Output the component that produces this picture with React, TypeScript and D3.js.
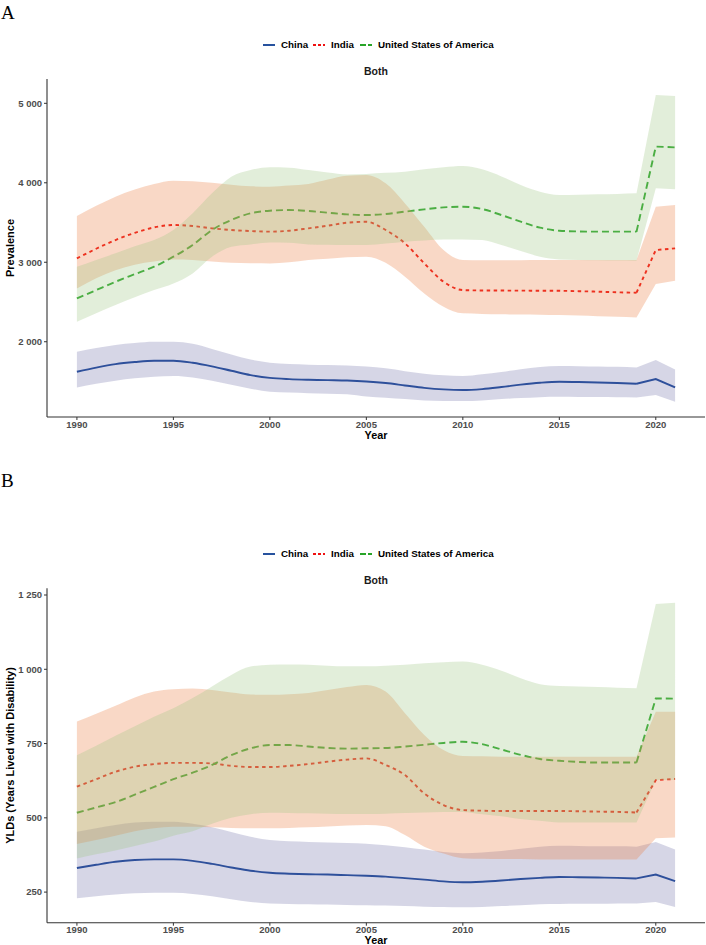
import React from "react";
import * as d3 from "d3";

// years on the x axis
const years = [
  1990, 1991, 1992, 1993, 1994, 1995, 1996, 1997, 1998, 1999, 2000, 2001, 2002, 2003, 2004, 2005,
  2006, 2007, 2008, 2009, 2010, 2011, 2012, 2013, 2014, 2015, 2016, 2017, 2018, 2019, 2020, 2021,
];
const countries = ["China", "India", "United States of America"];
const xTicks = [1990, 1995, 2000, 2005, 2010, 2015, 2020];
// smoothed trend runs up to this year, the last points are joined straight
const smoothUntil = 2019;

// Prevalence (rate) with uncertainty interval
const prevChina = [1622, 1675, 1719, 1745, 1761, 1761, 1735, 1690, 1635, 1580, 1545, 1530, 1522, 1517, 1512, 1500, 1480, 1450, 1420, 1400, 1392, 1404, 1430, 1460, 1484, 1497, 1494, 1488, 1480, 1471, 1530, 1425];
const prevChinaHi = [1874, 1920, 1960, 1985, 2000, 2000, 1975, 1910, 1840, 1775, 1736, 1720, 1712, 1706, 1700, 1688, 1665, 1630, 1598, 1578, 1568, 1590, 1620, 1655, 1682, 1694, 1692, 1688, 1684, 1677, 1769, 1652];
const prevChinaLo = [1425, 1470, 1510, 1540, 1560, 1568, 1550, 1510, 1460, 1410, 1371, 1360, 1352, 1345, 1338, 1310, 1295, 1278, 1262, 1255, 1253, 1262, 1278, 1292, 1303, 1308, 1306, 1304, 1301, 1299, 1329, 1245];
const prevIndia = [3049, 3170, 3280, 3370, 3439, 3469, 3456, 3427, 3406, 3393, 3385, 3397, 3427, 3460, 3498, 3510, 3406, 3238, 2986, 2755, 2650, 2645, 2644, 2643, 2642, 2641, 2636, 2630, 2622, 2617, 3154, 3175];
const prevIndiaHi = [3582, 3710, 3825, 3915, 3985, 4027, 4020, 4000, 3975, 3955, 3951, 3965, 3985, 4040, 4090, 4098, 3993, 3741, 3448, 3154, 3028, 3025, 3025, 3026, 3027, 3028, 3028, 3028, 3028, 3028, 3699, 3720];
const prevIndiaLo = [2671, 2800, 2900, 2970, 3010, 3036, 3030, 3010, 2995, 2988, 2986, 3000, 3028, 3045, 3062, 3070, 2994, 2818, 2608, 2441, 2357, 2350, 2345, 2342, 2340, 2336, 2330, 2322, 2314, 2306, 2726, 2768];
const prevUsa = [2545, 2650, 2755, 2850, 2944, 3070, 3217, 3406, 3532, 3616, 3649, 3657, 3645, 3624, 3603, 3594, 3607, 3637, 3666, 3691, 3699, 3670, 3594, 3511, 3435, 3397, 3388, 3385, 3385, 3385, 4455, 4446];
const prevUsaHi = [2944, 3030, 3112, 3200, 3280, 3406, 3616, 3867, 4077, 4161, 4195, 4190, 4161, 4130, 4105, 4111, 4125, 4140, 4170, 4195, 4211, 4169, 4080, 3972, 3888, 3846, 3850, 3855, 3860, 3867, 5105, 5092];
const prevUsaLo = [2252, 2360, 2462, 2560, 2650, 2734, 2860, 3070, 3196, 3225, 3250, 3245, 3225, 3220, 3217, 3217, 3235, 3259, 3275, 3288, 3288, 3280, 3217, 3141, 3070, 3036, 3030, 3025, 3022, 3020, 3930, 3918];

// YLDs (rate) with uncertainty interval
const yldChina = [331, 342, 352, 358, 360, 360, 355, 345, 333, 322, 315, 312, 310, 309, 307, 305, 302, 297, 292, 286, 283, 285, 289, 294, 298, 301, 300, 299, 298, 296, 309, 287];
const yldChinaHi = [453, 465, 476, 484, 487, 487, 480, 468, 452, 436, 425, 421, 419, 417, 415, 413, 408, 401, 393, 385, 381, 383, 388, 396, 403, 406, 405, 404, 404, 403, 419, 393];
const yldChinaLo = [229, 236, 242, 246, 248, 248, 244, 236, 226, 217, 212, 210, 209, 208, 207, 206, 205, 203, 201, 200, 199, 200, 203, 206, 209, 210, 211, 211, 212, 212, 217, 200];
const yldIndia = [605, 630, 655, 672, 681, 685, 685, 683, 675, 671, 671, 675, 681, 689, 696, 700, 678, 644, 582, 543, 526, 524, 523, 523, 523, 523, 522, 521, 520, 518, 627, 631];
const yldIndiaHi = [824, 850, 877, 905, 925, 933, 935, 930, 922, 915, 914, 916, 920, 930, 940, 947, 925, 852, 779, 728, 708, 707, 706, 706, 706, 706, 706, 706, 706, 706, 857, 857];
const yldIndiaLo = [412, 425, 440, 455, 465, 470, 470, 468, 466, 465, 465, 466, 468, 471, 474, 476, 472, 442, 403, 380, 364, 362, 361, 361, 360, 360, 360, 360, 360, 360, 431, 434];
const yldUsa = [517, 535, 553, 578, 604, 630, 652, 678, 711, 734, 745, 745, 740, 735, 733, 734, 735, 740, 746, 752, 756, 748, 730, 712, 698, 692, 688, 686, 686, 686, 902, 901];
const yldUsaHi = [711, 743, 776, 808, 840, 869, 903, 942, 981, 1009, 1015, 1016, 1015, 1012, 1010, 1010, 1012, 1015, 1020, 1024, 1026, 1015, 995, 970, 950, 944, 942, 940, 938, 936, 1220, 1224];
const yldUsaLo = [363, 377, 390, 405, 420, 440, 455, 480, 500, 512, 517, 516, 515, 514, 513, 513, 514, 516, 518, 520, 520, 512, 505, 496, 490, 484, 484, 484, 484, 484, 627, 627];

const prevTicks = [2000, 3000, 4000, 5000];
const yldTicks = [250, 500, 750, 1000, 1250];

const lineColor = ["#0f3f94", "#ee1111", "#28a428"];
const bandColor = ["#7676ac", "#eb7d41", "#9ec684"];
const dash = [null, "3.5 3.5", "7 4"];

const FONT = "'Liberation Sans', Arial, sans-serif";
const fmt = d3.formatLocale({ decimal: ".", thousands: "\u00a0", grouping: [3], currency: ["", ""] }).format(",");

const x = d3.scaleLinear().domain([1988.45, 2022.55]).range([47, 705]);
const cut = years.indexOf(smoothUntil);
const head = years.slice(0, cut + 1);
const tail = years.slice(cut);

function Legend({ y }) {
  // key start, text start
  const pos = [[263, 281], [313, 331], [360, 378]];
  return (
    <g fontFamily={FONT} fontWeight="bold" fontSize={9.8}>
      {countries.map((c, i) => (
        <g key={c}>
          <line x1={pos[i][0]} x2={pos[i][0] + 12} y1={y} y2={y} stroke={lineColor[i]} strokeWidth={1.8}
            strokeDasharray={i === 1 ? "3 2" : i === 2 ? "6 2" : null} />
          <text x={pos[i][1]} y={y} dy="0.35em" fill="#000">{c}</text>
        </g>
      ))}
    </g>
  );
}

function Panel({ top, bottom, domain, ticks, series, yTitle, legendY, titleY, tickGap, titleBase }) {
  const y = d3.scaleLinear().domain(domain).range([bottom, top]);

  // smooth part + straight part, joined in one path
  const trend = (v: number[]) => {
    const smooth = d3.line<number>().x(yr => x(yr)).y((_, i) => y(v[i])).curve(d3.curveMonotoneX)(head);
    const straight = d3.line<number>().x(yr => x(yr)).y((_, i) => y(v[cut + i]))(tail);
    return smooth + straight;
  };
  const band = (lo: number[], hi: number[]) => {
    const smooth = d3.area<number>().x(yr => x(yr)).y0((_, i) => y(lo[i])).y1((_, i) => y(hi[i]))
      .curve(d3.curveMonotoneX)(head);
    const straight = d3.area<number>().x(yr => x(yr)).y0((_, i) => y(lo[cut + i])).y1((_, i) => y(hi[cut + i]))(tail);
    return smooth + straight;
  };

  return (
    <g>
      <Legend y={legendY} />
      <text x={376} y={titleY} dy="0.35em" textAnchor="middle" fontFamily={FONT} fontWeight="bold" fontSize={10.5} fill="#1a1a1a">Both</text>

      {/* estimates, drawn under the uncertainty ribbons */}
      {series.map((s, i) => (
        <path key={"l" + i} d={trend(s.val)} fill="none" stroke={lineColor[i]} strokeWidth={1.9}
          strokeDasharray={dash[i]} />
      ))}
      {series.map((s, i) => (
        <path key={"b" + i} d={band(s.lo, s.hi)} fill={bandColor[i]} fillOpacity={0.3} />
      ))}

      {/* axes */}
      <line x1={47} x2={47} y1={top} y2={bottom} stroke="#333" strokeWidth={1.1} />
      <line x1={47} x2={705} y1={bottom} y2={bottom} stroke="#333" strokeWidth={1.1} />
      {ticks.map(t => (
        <g key={t}>
          <line x1={44} x2={47} y1={y(t)} y2={y(t)} stroke="#333" />
          <text x={42} y={y(t)} dy="0.35em" textAnchor="end" fontFamily={FONT} fontWeight="bold" fontSize={9.5} fill="#4d4d4d">{fmt(t)}</text>
        </g>
      ))}
      {xTicks.map(t => (
        <g key={t}>
          <line x1={x(t)} x2={x(t)} y1={bottom} y2={bottom + 3} stroke="#333" />
          <text x={x(t)} y={bottom + tickGap} textAnchor="middle" fontFamily={FONT} fontWeight="bold" fontSize={9.5} fill="#4d4d4d">{t}</text>
        </g>
      ))}
      <text x={376} y={titleBase} textAnchor="middle" fontFamily={FONT} fontWeight="bold" fontSize={10.8} fill="#000">Year</text>
      <text transform={`translate(10,${(top + bottom) / 2}) rotate(-90)`} dy="0.35em" textAnchor="middle"
        fontFamily={FONT} fontWeight="bold" fontSize={11} fill="#000">{yTitle}</text>
    </g>
  );
}

export default function App() {
  const prevSeries = [
    { val: prevChina, lo: prevChinaLo, hi: prevChinaHi },
    { val: prevIndia, lo: prevIndiaLo, hi: prevIndiaHi },
    { val: prevUsa, lo: prevUsaLo, hi: prevUsaHi },
  ];
  const yldSeries = [
    { val: yldChina, lo: yldChinaLo, hi: yldChinaHi },
    { val: yldIndia, lo: yldIndiaLo, hi: yldIndiaHi },
    { val: yldUsa, lo: yldUsaLo, hi: yldUsaHi },
  ];
  return (
    <svg width={706} height={945} style={{ position: "absolute", left: 0, top: 0, background: "#fff" }}>
      <text x={1} y={19} fontFamily="'Liberation Serif', 'Times New Roman', serif" fontSize={19}>A</text>
      <Panel top={79} bottom={417} domain={[1053, 5306]} ticks={prevTicks} series={prevSeries}
        yTitle="Prevalence" legendY={45} titleY={71.5} tickGap={11} titleBase={439} />
      <text x={1} y={487} fontFamily="'Liberation Serif', 'Times New Roman', serif" fontSize={19}>B</text>
      <Panel top={588.3} bottom={922.7} domain={[147, 1272.6]} ticks={yldTicks} series={yldSeries}
        yTitle="YLDs (Years Lived with Disability)" legendY={554} titleY={580} tickGap={10} titleBase={944} />
    </svg>
  );
}
